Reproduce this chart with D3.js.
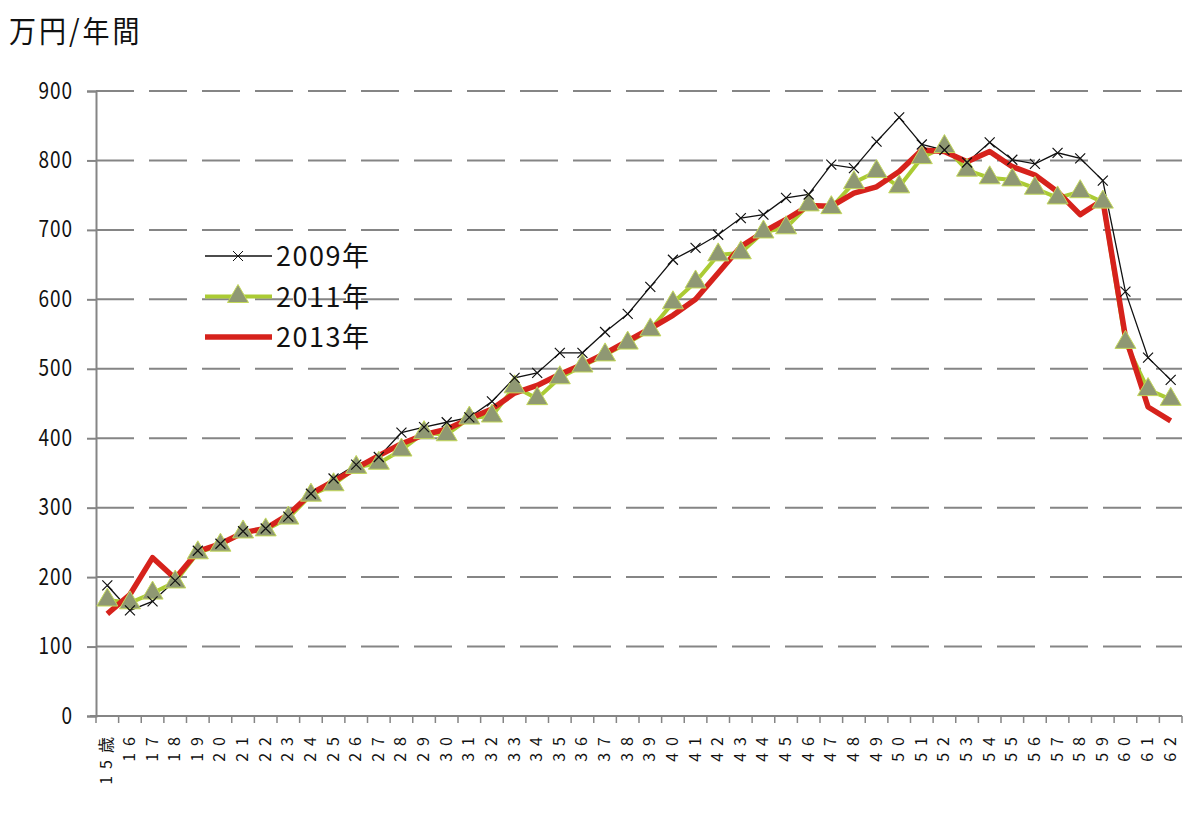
<!DOCTYPE html>
<html>
<head>
<meta charset="utf-8">
<script src="https://cdn.jsdelivr.net/npm/d3@7"></script>
<style>
  body { margin: 0; background: #fff; }
  svg { display: block; }
</style>
</head>
<body>
<div id="chart"></div>
<script>
/**
 * CONSTANTS AND DATA
 * */
const width = 1200,
  height = 814,
  margin = { top: 91, bottom: 98, left: 96, right: 18 };

const ages = d3.range(15, 63).map(a => a === 15 ? "15歳" : String(a));

const yTicks = [0, 100, 200, 300, 400, 500, 600, 700, 800, 900];

const legendNames = ["2009年", "2011年", "2013年"];

const v2009 = [188, 152, 165, 195, 238, 248, 266, 270, 287, 320, 342, 362, 373, 408, 416, 423,
  430, 453, 487, 494, 523, 523, 553, 579, 618, 657, 674, 693, 717, 722, 746, 751,
  794, 789, 827, 862, 823, 815, 797, 826, 801, 795, 811, 803, 771, 611, 516, 484];

const v2011 = [167, 163, 177, 193, 235, 246, 265, 268, 285, 318, 333, 358, 364, 383, 408, 405,
  429, 432, 474, 457, 487, 504, 520, 537, 556, 595, 625, 664, 667, 697, 703, 736,
  732, 768, 784, 762, 804, 820, 786, 775, 772, 760, 746, 755, 740, 538, 470, 456];

const v2013 = [147, 175, 228, 198, 237, 248, 264, 270, 290, 320, 338, 357, 375, 392, 405, 413,
  428, 442, 465, 476, 492, 506, 522, 540, 558, 577, 600, 638, 676, 697, 715, 735,
  734, 753, 762, 784, 815, 813, 798, 813, 791, 779, 755, 722, 743, 546, 445, 425];

const gridColor = "#858585";
const greenLine = "#abcb34";
const triFill = "#8f9873";
const redLine = "#d6221c";
const font = "'Noto Sans CJK JP', 'Noto Sans', sans-serif";

const svg = d3.select("#chart")
  .append("svg")
  .attr("width", width)
  .attr("height", height);

// scales
const x = d3.scaleBand()
  .domain(ages)
  .range([margin.left, width - margin.right])
  .padding(0);
const cx = d => x(d) + x.bandwidth() / 2;

const y = d3.scaleLinear()
  .domain([0, 900])
  .range([height - margin.bottom, margin.top]);

// gridlines (dashed)
svg.selectAll("line.grid")
  .data(yTicks.filter(d => d > 0))
  .join("line")
  .attr("class", "grid")
  .attr("x1", margin.left)
  .attr("x2", width - margin.right)
  .attr("y1", d => y(d))
  .attr("y2", d => y(d))
  .attr("stroke", gridColor)
  .attr("stroke-width", 2)
  .attr("stroke-dasharray", "38,15");

// y axis
const yAxis = d3.axisLeft(y).tickValues(yTicks).tickSize(9).tickFormat(d => d);
const gy = svg.append("g")
  .attr("transform", `translate(${margin.left},0)`)
  .call(yAxis);
gy.select(".domain").attr("stroke", gridColor).attr("stroke-width", 2);
gy.selectAll(".tick line").attr("stroke", gridColor).attr("stroke-width", 2);
gy.selectAll(".tick text")
  .attr("x", null)
  .attr("dy", null)
  .attr("font-family", font)
  .attr("font-size", 19)
  .attr("letter-spacing", 1)
  .attr("fill", "#111")
  .attr("text-anchor", "end")
  .attr("transform", "translate(-23,7) scale(1,1.2)");

// x axis
const gx = svg.append("g")
  .attr("transform", `translate(0,${y(0)})`);
gx.append("line")
  .attr("x1", margin.left - 6)
  .attr("x2", width - margin.right)
  .attr("stroke", gridColor)
  .attr("stroke-width", 2);
gx.selectAll("line.xtick")
  .data(ages.concat(["end"]))
  .join("line")
  .attr("class", "xtick")
  .attr("x1", (d, i) => margin.left + i * x.bandwidth())
  .attr("x2", (d, i) => margin.left + i * x.bandwidth())
  .attr("y1", 0)
  .attr("y2", 7)
  .attr("stroke", gridColor)
  .attr("stroke-width", 1.5);
gx.selectAll("text.xlab")
  .data(ages)
  .join("text")
  .attr("class", "xlab")
  .attr("transform", d => `translate(${cx(d) + 5},${14}) rotate(-90)`)
  .attr("text-anchor", "end")
  .attr("font-family", font)
  .attr("font-size", 16)
  .attr("letter-spacing", 7)
  .attr("fill", "#111")
  .text(d => d);

// lines
const line = d3.line()
  .x((d, i) => cx(ages[i]))
  .y(d => y(d));

svg.append("path")
  .datum(v2009)
  .attr("fill", "none")
  .attr("stroke", "#111")
  .attr("stroke-width", 1.3)
  .attr("d", line);

svg.append("path")
  .datum(v2011)
  .attr("fill", "none")
  .attr("stroke", greenLine)
  .attr("stroke-width", 4)
  .attr("stroke-linejoin", "round")
  .attr("d", line);

svg.append("path")
  .datum(v2013)
  .attr("fill", "none")
  .attr("stroke", redLine)
  .attr("stroke-width", 5.5)
  .attr("stroke-linejoin", "round")
  .attr("d", line);

// markers
const triPath = "M0,-12L10.5,6L-10.5,6Z";
const crossPath = "M-5,-5L5,5M-5,5L5,-5";

svg.selectAll("path.tri")
  .data(v2011)
  .join("path")
  .attr("class", "tri")
  .attr("d", triPath)
  .attr("transform", (d, i) => `translate(${cx(ages[i])},${y(d)})`)
  .attr("fill", triFill)
  .attr("stroke", "#c3d85a")
  .attr("stroke-width", 1);

svg.selectAll("path.cross")
  .data(v2009)
  .join("path")
  .attr("class", "cross")
  .attr("d", crossPath)
  .attr("transform", (d, i) => `translate(${cx(ages[i])},${y(d)})`)
  .attr("stroke", "#111")
  .attr("stroke-width", 1.2);

// legend
const legend = svg.append("g").attr("transform", "translate(205,256)");
const lg = legend.selectAll("g")
  .data(legendNames)
  .join("g")
  .attr("transform", (d, i) => `translate(0,${i * 40.5})`);
lg.append("line")
  .attr("x1", 0).attr("x2", 67)
  .attr("stroke", (d, i) => ["#111", greenLine, redLine][i])
  .attr("stroke-width", (d, i) => [1.3, 4, 5.5][i]);
lg.filter((d, i) => i === 0).append("path")
  .attr("d", crossPath)
  .attr("transform", "translate(33,0)")
  .attr("stroke", "#111");
lg.filter((d, i) => i === 1).append("path")
  .attr("d", triPath)
  .attr("transform", "translate(33,0)")
  .attr("fill", triFill)
  .attr("stroke", "#c3d85a");
lg.append("text")
  .attr("x", 71)
  .attr("y", 10)
  .attr("font-family", font)
  .attr("font-size", 27)
  .attr("letter-spacing", 1.5)
  .attr("fill", "#111")
  .text(d => d);

// y axis title
svg.append("text")
  .attr("transform", "translate(9,42) scale(1,1.1)")
  .attr("font-family", font)
  .attr("font-size", 27)
  .attr("letter-spacing", 3)
  .attr("fill", "#111")
  .text("万円/年間");
</script>
</body>
</html>
